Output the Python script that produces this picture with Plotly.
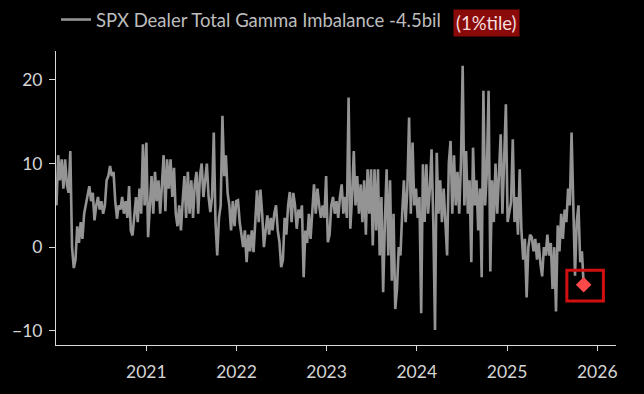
import pandas as pd
import plotly.graph_objects as go

# Weekly readings of SPX dealer total gamma imbalance ($bn)
gamma_2020 = [5, 11, 8, 10.5, 7, 10.5, 7.5, 6.5, 11.5, 0, -2.5, -1.5, 2.5, 0.5, 3, 1, 4, 5, 6, 7.3,
              5.5, 6.5, 3.2, 5, 6, 4.5, 5.5, 4, 5, 8, 8.5, 9.7, 8.5, 9, 5.5, 3.4, 5, 4.5, 6, 4,
              5.5, 3.5, 7.3, 2, 1.4, 4, 6, 3, 7, 4, 12.3, 5, 12.5]
gamma_2021 = [1.2, 5, 8.5, 4, 9, 5.5, 8, 4, 7, 11, 4.3, 10.5, 7, 10.5, 6, 9.5, 4, 2.5, 5, 2,
              5.5, 8.5, 3.5, 9, 4, 8, 3.5, 7.5, 9, 4, 8.5, 10, 6, 8, 10, 6, 4.2, 6, 13.7, 3,
              -1, 3.5, 5, 15.7, 8.5, 11, 6.5, 5, 2, 5.5, 2.5, 5.5]
gamma_2022a = [5.6, 3, 1.5, 0, 2, -1.8, 1.5, -0.5, 2, -0.6, 3, 6.8, 3, 6.9, 4, 0, 2, 3.8, 1.5, 3.5,
               2, 4, 5, 2, 0.6, -2.4]
gamma_2022b_2023 = [-1.5, 3.5, 1.5, 5, 6.6, 3, 6.5, 5, 2.2, 4.5, 3.5, 5, -3.6, 2, 0.5, 4, 1, 4.5, 7.5, 4,
                    7, 5, 3.5, 5, 3.5, 8.5, 0.6, 1.5, 5, 6, 4, 5.5, 3.5, 6, 7.5, 4, 6, 3.5, 17.9, 2.2,
                    6, 11.5, 5, 8.5, 4, 7.5, 3, 8, 1.5, 9.3, 4, 9.3, 0.2, 9.3, 2, 9.3, -1, 6, -5.4, 3,
                    9.3, -1, 8, -4, 4, -7.4]
gamma_2024 = [-5, 0, -1, 4, 8, 3, 7, 15.5, 4, 12.5, 5, 7, 3.5, 6, -7.9, 9.9, 3, 9.9, 4, 7,
              11.7, 3, -9.9, 11.3, 4, 8, 3, 7, 2, -1, 10.1, 12.7, 4, 11, 5, 9, 4, 10, 21.7, 5,
              11.5, 4, 8, -1.8, 11.9, 5, 8, 2, 7, -3.6, 18.7, 5, 9, 18.7, -2.9, 8, 3, 10, 4, 9,
              13.5, 4, 10, 17.1, 3]
gamma_2025 = [4, 5.4, 12.9, 3, 6, 1.5, 9.3, 2, -1.5, 1, -6, 0, 1.5, 1.2, -0.5, 1, -1.5, 0.5, -2, -3.5,
              0, -1, 1.5, -1, 0.5, -5, 0, -7.7, 2.6, -0.5, 4, 1, 4.5, 3, 7, 5, 13.7, 4, -3.4, 3,
              5, -1.8, -0.5, -4.5]

values = gamma_2020 + gamma_2021 + gamma_2022a + gamma_2022b_2023 + gamma_2024 + gamma_2025
dates = pd.date_range("2020-01-03", periods=len(values), freq="7D")

series_name = "SPX Dealer Total Gamma Imbalance -4.5bil"
pct_label = "(1%tile)"
year_ticks = ["2021", "2022", "2023", "2024", "2025", "2026"]
y_ticks = [-10, 0, 10, 20]

FONT = "Lato"
AX = "#d9d9d9"
TXT = "#d4d4d4"

fig = go.Figure()
fig.add_trace(go.Scatter(x=dates, y=values, mode="lines",
                         line=dict(color="#949494", width=2.6),
                         name=series_name, showlegend=True))
last_x, last_y = dates[-1], values[-1]
fig.add_trace(go.Scatter(x=[last_x], y=[last_y], mode="markers",
                         marker=dict(symbol="diamond", size=12, color="#ff4848"),
                         showlegend=False))
fig.add_shape(type="rect",
              x0=last_x - pd.Timedelta(days=68), x1=last_x + pd.Timedelta(days=80),
              y0=last_y - 1.95, y1=last_y + 1.75,
              line=dict(color="#d01010", width=3), fillcolor="rgba(0,0,0,0)")

fig.add_annotation(text=pct_label, xref="paper", yref="paper",
                   x=(450 - 45) / 571, y=1 + (50 - 22) / 295, xanchor="left", yanchor="middle",
                   showarrow=False, bgcolor="#8a0a0a", borderpad=2,
                   font=dict(family=FONT, size=18.5, color="#f4dede"))

fig.update_layout(
    width=644, height=394,
    margin=dict(l=45, r=28, t=50, b=49),
    paper_bgcolor="#000000", plot_bgcolor="#000000",
    font=dict(family=FONT, size=17.5, color=TXT),
    legend=dict(orientation="h", xref="container", yref="container",
                x=56 / 644, y=1 - 1 / 394, xanchor="left", yanchor="top",
                font=dict(family=FONT, size=18.5, color="#bdbdbd"),
                bgcolor="rgba(0,0,0,0)"),
    xaxis=dict(range=["2020-01-01", "2026-03-18"],
               tickvals=[pd.Timestamp(f"{y}-01-01") for y in year_ticks],
               ticktext=year_ticks,
               ticks="outside", ticklen=5, tickcolor=AX, tickwidth=1,
               ticklabelstandoff=6,
               showline=True, linecolor=AX, linewidth=1,
               showgrid=False, zeroline=False,
               tickfont=dict(family=FONT, size=17.5, color=TXT)),
    yaxis=dict(range=[-11.7, 23.46], tickvals=y_ticks,
               ticks="outside", ticklen=6, tickcolor=AX, tickwidth=1,
               ticklabelstandoff=3,
               showline=True, linecolor=AX, linewidth=1,
               showgrid=False, zeroline=False,
               tickfont=dict(family=FONT, size=17.5, color=TXT)),
)

fig.write_html("out.html",
               config={"displayModeBar": False},
               post_script="document.body.style.margin='0px';document.body.style.overflow='hidden';document.body.style.background='#000';")
